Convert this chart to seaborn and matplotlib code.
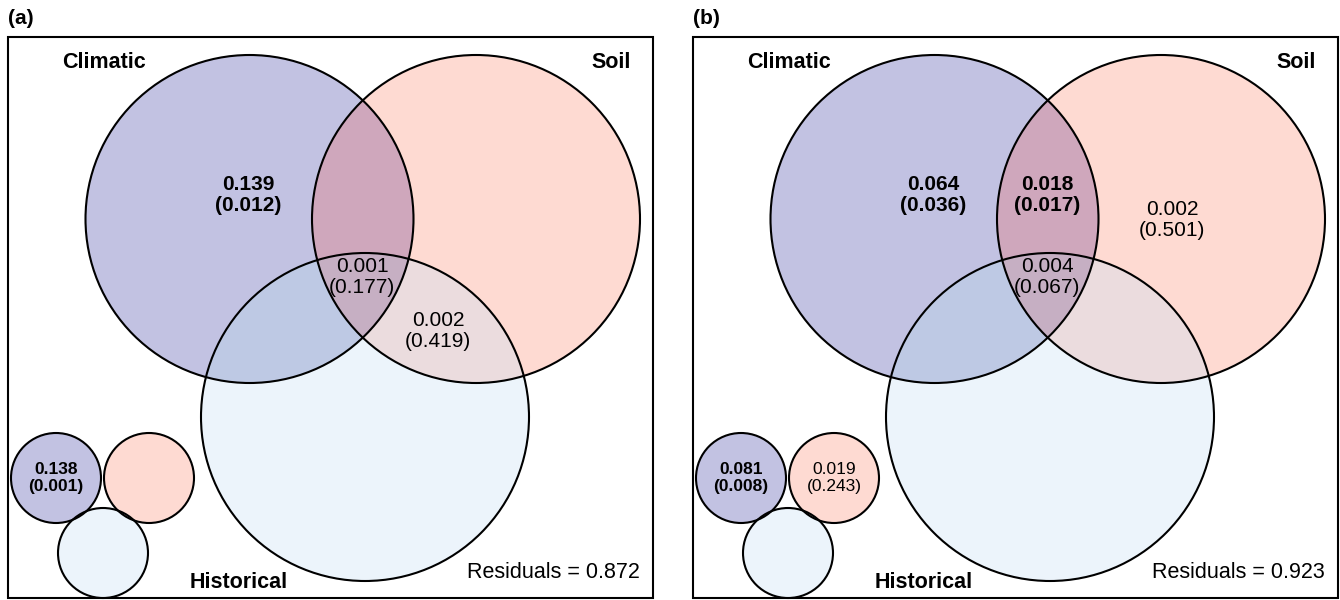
import numpy as np
import matplotlib
matplotlib.use("Agg")
import matplotlib.pyplot as plt
from matplotlib.patches import Circle, Polygon, Rectangle
import seaborn as sns

# ---- data -------------------------------------------------------------
panel_tags = ["(a)", "(b)"]
set_names = ["Climatic", "Soil", "Historical"]

# fractions of explained variation per Venn region (C = climatic, S = soil, H = historical)
a_regions = ["C", "CSH", "SH"]
a_fractions = [0.139, 0.001, 0.002]
a_pvalues = [0.012, 0.177, 0.419]
a_pure_sets = ["C"]
a_pure_fractions = [0.138]
a_pure_pvalues = [0.001]
a_residual = 0.872

b_regions = ["C", "CS", "S", "CSH"]
b_fractions = [0.064, 0.018, 0.002, 0.004]
b_pvalues = [0.036, 0.017, 0.501, 0.067]
b_pure_sets = ["C", "S"]
b_pure_fractions = [0.081, 0.019]
b_pure_pvalues = [0.008, 0.243]
b_residual = 0.923

alpha_level = 0.05

# ---- style ------------------------------------------------------------
sns.set_style("white")
plt.rcParams["font.family"] = ["Liberation Sans", "DejaVu Sans"]
plt.rcParams["text.color"] = "black"

region_colors = {
    "C": "#C2C2E2",
    "S": "#FEDAD2",
    "H": "#ECF4FB",
    "CS": "#CFA7BC",
    "CH": "#BEC9E4",
    "SH": "#EBDCDE",
    "CSH": "#C6AFC3",
}

# ---- layout (panel-local pixel units, y downward) ---------------------
panel_origins = [(8, 37), (693, 37)]
panel_size = (645, 561)
big_centers = {"C": (241.5, 182), "S": (468, 182), "H": (357, 380)}
big_r = 164
small_centers = {"C": (48, 441), "S": (141, 441), "H": (95, 516)}
small_r = 45
label_pos = {"C": (240, 158), "S": (479, 183), "CS": (354, 158),
             "CSH": (354, 240), "SH": (430, 294)}


def region_polygon(keys, centers, r, n=1440):
    """Polygon of the intersection of the circles named in keys (convex)."""
    pts = []
    th = np.linspace(0, 2 * np.pi, n, endpoint=False)
    for k in keys:
        cx, cy = centers[k]
        p = np.column_stack([cx + r * np.cos(th), cy + r * np.sin(th)])
        mask = np.ones(n, bool)
        for j in keys:
            if j == k:
                continue
            jx, jy = centers[j]
            mask &= np.hypot(p[:, 0] - jx, p[:, 1] - jy) <= r + 1e-6
        pts.append(p[mask])
    pts = np.vstack(pts)
    c = pts.mean(axis=0)
    order = np.argsort(np.arctan2(pts[:, 1] - c[1], pts[:, 0] - c[0]))
    return pts[order]


def draw_venn(ax, ox, oy, centers, r):
    shifted = {k: (x + ox, y + oy) for k, (x, y) in centers.items()}
    for k in ["C", "S", "H"]:
        ax.add_patch(Circle(shifted[k], r, facecolor=region_colors[k],
                            edgecolor="none", zorder=1))
    for keys in ["CS", "CH", "SH", "CSH"]:
        poly = region_polygon(list(keys), shifted, r)
        ax.add_patch(Polygon(poly, closed=True, facecolor=region_colors[keys],
                             edgecolor="none", zorder=2))
    for k in ["C", "S", "H"]:
        ax.add_patch(Circle(shifted[k], r, facecolor="none",
                            edgecolor="black", lw=1.5, zorder=3))


def value_text(ax, x, y, v, p, size):
    weight = "bold" if p < alpha_level else "normal"
    ax.text(x, y, f"{v:.3f}\n({p:.3f})", ha="center", va="center",
            fontsize=size, fontweight=weight, linespacing=1.15, zorder=5)


fig = plt.figure(figsize=(13.4, 6), dpi=100)
ax = fig.add_axes([0, 0, 1, 1])
ax.set_xlim(0, 1340)
ax.set_ylim(600, 0)
ax.axis("off")

panels = [
    (a_regions, a_fractions, a_pvalues, a_pure_sets, a_pure_fractions, a_pure_pvalues, a_residual),
    (b_regions, b_fractions, b_pvalues, b_pure_sets, b_pure_fractions, b_pure_pvalues, b_residual),
]

for (ox, oy), tag, (regs, fr, pv, psets, pfr, ppv, resid) in zip(panel_origins, panel_tags, panels):
    ax.add_patch(Rectangle((ox, oy), panel_size[0], panel_size[1], facecolor="white",
                           edgecolor="black", lw=1.5, zorder=0))
    ax.text(ox, oy - 18, tag, ha="left", va="center", fontsize=15, fontweight="bold")

    draw_venn(ax, ox, oy, big_centers, big_r)
    draw_venn(ax, ox, oy, small_centers, small_r)

    ax.text(ox + 54, oy + 26, set_names[0], ha="left", va="center",
            fontsize=15.5, fontweight="bold", zorder=5)
    ax.text(ox + 623, oy + 26, set_names[1], ha="right", va="center",
            fontsize=15.5, fontweight="bold", zorder=5)
    ax.text(ox + 182, oy + 546, set_names[2], ha="left", va="center",
            fontsize=15.5, fontweight="bold", zorder=5)
    ax.text(ox + 632, oy + 535, f"Residuals = {resid:.3f}", ha="right", va="center",
            fontsize=15.5, zorder=5)

    for reg, v, p in zip(regs, fr, pv):
        x, y = label_pos[reg]
        value_text(ax, ox + x, oy + y, v, p, 15)
    for s, v, p in zip(psets, pfr, ppv):
        x, y = small_centers[s]
        value_text(ax, ox + x, oy + y, v, p, 12.5)

fig.savefig("out.png", dpi=100)
